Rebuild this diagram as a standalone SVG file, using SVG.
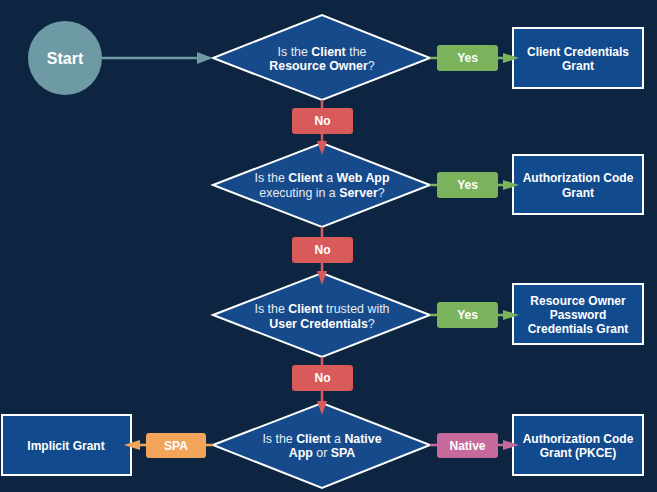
<svg xmlns="http://www.w3.org/2000/svg" width="657" height="492" viewBox="0 0 657 492">
<style>
text{font-family:"Liberation Sans",Arial,sans-serif;font-size:12px;fill:#ffffff;text-anchor:middle}
.q{font-size:12.4px}
.b{font-weight:bold}
.r{fill:#e6ecf3}
.dia{fill:#174a8b;stroke:#ffffff;stroke-width:2}
.box{fill:#124a8e;stroke:#ffffff;stroke-width:2}
.yes{fill:#7bb35c}
.no{fill:#d85a5a}
.spa{fill:#f2a45b}
.nat{fill:#c56a9b}
.gl{stroke:#7bb35c;stroke-width:2.5;fill:none}
.rl{stroke:#d85a5a;stroke-width:2.5;fill:none}
.ol{stroke:#f2a45b;stroke-width:2.5;fill:none}
.pl{stroke:#c56a9b;stroke-width:2.5;fill:none}
.sl{stroke:#6e9aa5;stroke-width:2.5;fill:none}
</style>
<rect x="0" y="0" width="657" height="492" fill="#0d2541"/>

<g id="start">
<circle cx="65" cy="58" r="37" fill="#6e9aa5"/>
<text x="65" y="64" class="b" style="font-size:16px">Start</text>
</g>

<g id="q1">
<polygon class="dia" points="213,58 322,15 430,58 322,100"/>
<text x="322" y="56" class="q"><tspan class="r">Is the </tspan><tspan class="b">Client</tspan><tspan class="r"> the</tspan></text>
<text x="322" y="70" class="q"><tspan class="b">Resource Owner</tspan><tspan class="r">?</tspan></text>
</g>
<g id="yes1"><rect class="yes" x="437" y="45" width="61" height="26" rx="3"/><text x="467.5" y="62" class="b">Yes</text></g>
<g id="grant1">
<rect class="box" x="513" y="28" width="130" height="60"/>
<text x="578" y="56" class="b">Client Credentials</text>
<text x="578" y="70" class="b">Grant</text>
</g>
<g id="no1"><rect class="no" x="292" y="108" width="61" height="26" rx="3"/><text x="322.5" y="125" class="b">No</text></g>

<g id="q2">
<polygon class="dia" points="213,185 322,143 430,185 322,227"/>
<text x="322" y="182" class="q"><tspan class="r">Is the </tspan><tspan class="b">Client</tspan><tspan class="r"> a </tspan><tspan class="b">Web App</tspan></text>
<text x="322" y="197" class="q"><tspan class="r">executing in a </tspan><tspan class="b">Server</tspan><tspan class="r">?</tspan></text>
</g>
<g id="yes2"><rect class="yes" x="437" y="172" width="61" height="26" rx="3"/><text x="467.5" y="189" class="b">Yes</text></g>
<g id="grant2">
<rect class="box" x="513" y="155" width="130" height="59"/>
<text x="578" y="182" class="b">Authorization Code</text>
<text x="578" y="197" class="b">Grant</text>
</g>
<g id="no2"><rect class="no" x="292" y="237" width="61" height="26" rx="3"/><text x="322.5" y="254" class="b">No</text></g>

<g id="q3">
<polygon class="dia" points="213,315 322,273 430,315 322,357"/>
<text x="322" y="313" class="q"><tspan class="r">Is the </tspan><tspan class="b">Client</tspan><tspan class="r"> trusted with</tspan></text>
<text x="322" y="328" class="q"><tspan class="b">User Credentials</tspan><tspan class="r">?</tspan></text>
</g>
<g id="yes3"><rect class="yes" x="437" y="302" width="61" height="26" rx="3"/><text x="467.5" y="319" class="b">Yes</text></g>
<g id="grant3">
<rect class="box" x="513" y="284" width="130" height="60"/>
<text x="578" y="305" class="b">Resource Owner</text>
<text x="578" y="319" class="b">Password</text>
<text x="578" y="333" class="b">Credentials Grant</text>
</g>
<g id="no3"><rect class="no" x="292" y="365" width="61" height="26" rx="3"/><text x="322.5" y="382" class="b">No</text></g>

<g id="q4">
<polygon class="dia" points="213,445 322,403 430,445 322,488"/>
<text x="322" y="443" class="q"><tspan class="r">Is the </tspan><tspan class="b">Client</tspan><tspan class="r"> a </tspan><tspan class="b">Native</tspan></text>
<text x="322" y="457" class="q"><tspan class="b">App</tspan><tspan class="r"> or </tspan><tspan class="b">SPA</tspan></text>
</g>
<g id="spa"><rect class="spa" x="146" y="433" width="60" height="25" rx="3"/><text x="176" y="450" class="b">SPA</text></g>
<g id="implicit">
<rect class="box" x="2" y="415" width="129" height="60"/>
<text x="66" y="450" class="b">Implicit Grant</text>
</g>
<g id="native"><rect class="nat" x="437" y="433" width="61" height="25" rx="3"/><text x="467.5" y="450" class="b">Native</text></g>
<g id="grant4">
<rect class="box" x="513" y="415" width="130" height="60"/>
<text x="578" y="443" class="b">Authorization Code</text>
<text x="578" y="457" class="b">Grant (PKCE)</text>
</g>

<g id="connectors">
<line class="sl" x1="102" y1="58" x2="199" y2="58"/>
<polygon fill="#6e9aa5" points="197,52 213,58 197,64"/>

<line class="gl" x1="430" y1="58" x2="437" y2="58"/>
<line class="gl" x1="498" y1="58" x2="505" y2="58"/>
<polygon fill="#7bb35c" points="503,53 519,58 503,63"/>
<line class="rl" x1="322" y1="100" x2="322" y2="108"/>
<line class="rl" x1="322" y1="134" x2="322" y2="143"/>
<polygon fill="#d85a5a" points="317,141 322,155 327,141"/>

<line class="gl" x1="430" y1="185" x2="437" y2="185"/>
<line class="gl" x1="498" y1="185" x2="505" y2="185"/>
<polygon fill="#7bb35c" points="503,180 519,185 503,190"/>
<line class="rl" x1="322" y1="227" x2="322" y2="237"/>
<line class="rl" x1="322" y1="263" x2="322" y2="273"/>
<polygon fill="#d85a5a" points="317,271 322,285 327,271"/>

<line class="gl" x1="430" y1="315" x2="437" y2="315"/>
<line class="gl" x1="498" y1="315" x2="505" y2="315"/>
<polygon fill="#7bb35c" points="503,310 519,315 503,320"/>
<line class="rl" x1="322" y1="357" x2="322" y2="365"/>
<line class="rl" x1="322" y1="391" x2="322" y2="403"/>
<polygon fill="#d85a5a" points="317,401 322,415 327,401"/>

<line class="ol" x1="206" y1="445" x2="213" y2="445"/>
<line class="ol" x1="146" y1="445" x2="138" y2="445"/>
<polygon fill="#f2a45b" points="140,440 124,445 140,450"/>
<line class="pl" x1="430" y1="445" x2="437" y2="445"/>
<line class="pl" x1="498" y1="445" x2="505" y2="445"/>
<polygon fill="#c56a9b" points="503,440 519,445 503,450"/>
</g>
</svg>
